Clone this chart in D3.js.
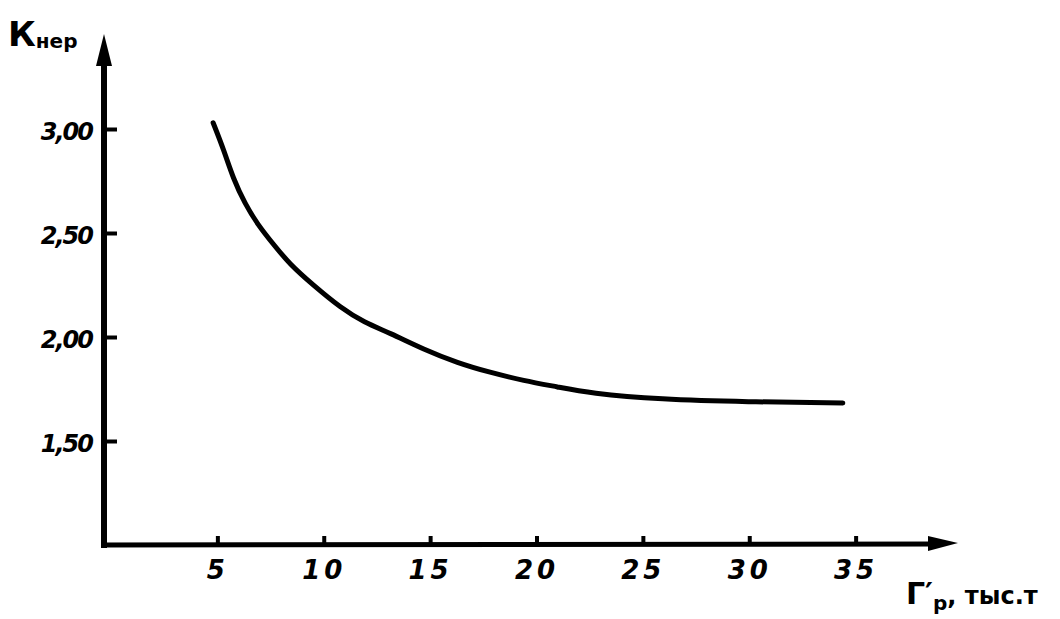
<!DOCTYPE html>
<html>
<head>
<meta charset="utf-8">
<script src="https://cdn.jsdelivr.net/npm/d3@7"></script>
<style>
  body { margin: 0; background: #fff; }
  svg text { font-family: "DejaVu Sans", sans-serif; font-weight: bold; fill: #000; }
</style>
</head>
<body>
<div id="chart"></div>
<script>
// values
const gr_values = [4.8, 5.3, 5.75, 6.3, 6.9, 7.6, 8.4, 9.5, 10.8, 11.9, 13.1, 14.7, 16.3, 17.8, 19.4, 21.0, 22.5, 25.8, 29.9, 34.4];
const k_values = [3.03, 2.90, 2.76, 2.64, 2.54, 2.45, 2.35, 2.25, 2.14, 2.07, 2.02, 1.94, 1.875, 1.83, 1.79, 1.76, 1.73, 1.70, 1.688, 1.683];

const x_ticks = [5, 10, 15, 20, 25, 30, 35];
const y_ticks = [1.5, 2.0, 2.5, 3.0];
const y_tick_labels = ["1,50", "2,00", "2,50", "3,00"];

const width = 1060;
const height = 619;

const svg = d3.select("#chart").append("svg")
    .attr("width", width)
    .attr("height", height);

const x = d3.scaleLinear()
    .domain([0, 40])
    .range([111, 962]);

const y = d3.scaleLinear()
    .domain([1, 3])
    .range([545, 129]);

// axes lines (drawn by hand, with arrows)
const x0 = 104, y0 = 545;

svg.append("line")
    .attr("x1", x0).attr("y1", y0 + 3)
    .attr("x2", x0).attr("y2", 55)
    .attr("stroke", "#000").attr("stroke-width", 6);

svg.append("path")
    .attr("d", `M${x0},34 L${x0 - 8},66 L${x0 + 8},66 Z`)
    .attr("fill", "#000");

svg.append("line")
    .attr("x1", x0 - 3).attr("y1", y0)
    .attr("x2", 940).attr("y2", y0 - 1)
    .attr("stroke", "#000").attr("stroke-width", 5);

svg.append("path")
    .attr("d", `M958,543 L928,536 L928,551 Z`)
    .attr("fill", "#000");

// y axis ticks + labels
const yAxis = d3.axisLeft(y)
    .tickValues(y_ticks)
    .tickSizeInner(-13)
    .tickSizeOuter(0)
    .tickPadding(12)
    .tickFormat((d, i) => y_tick_labels[i]);

const gy = svg.append("g")
    .attr("transform", `translate(${x0}, 0)`)
    .call(yAxis);
gy.select(".domain").remove();
gy.selectAll(".tick line").attr("stroke", "#000").attr("stroke-width", 4);
gy.selectAll(".tick text")
    .attr("font-size", 24)
    .attr("font-style", "italic")
    .attr("letter-spacing", -2)
    .attr("dy", "0.45em");

// x axis ticks + labels
const xAxis = d3.axisBottom(x)
    .tickValues(x_ticks)
    .tickSizeInner(-9)
    .tickSizeOuter(0)
    .tickPadding(16)
    .tickFormat(d => d);

const gx = svg.append("g")
    .attr("transform", `translate(0, ${y0})`)
    .call(xAxis);
gx.select(".domain").remove();
gx.selectAll(".tick line").attr("stroke", "#000").attr("stroke-width", 4);
gx.selectAll(".tick text")
    .attr("font-size", 26)
    .attr("font-style", "italic")
    .attr("letter-spacing", 4);

// curve - basis smooths out the reading noise
const line = d3.line()
    .x((d, i) => x(gr_values[i]))
    .y(d => y(d))
    .curve(d3.curveBasis);

svg.append("path")
    .datum(k_values)
    .attr("d", line)
    .attr("fill", "none")
    .attr("stroke", "#000")
    .attr("stroke-width", 5)
    .attr("stroke-linecap", "round");

// axis titles
const ylab = svg.append("text")
    .attr("x", 8)
    .attr("y", 46)
    .attr("font-size", 34);
ylab.append("tspan").text("К");
ylab.append("tspan").attr("font-size", 20).attr("dy", 2).text("нер");

const xlab = svg.append("text")
    .attr("x", 906)
    .attr("y", 604)
    .attr("font-size", 30);
xlab.append("tspan").text("Г′");
xlab.append("tspan").attr("font-size", 20).attr("dy", 6).text("р");
xlab.append("tspan").attr("font-size", 24).attr("dy", -6).text(", тыс.т");
</script>
</body>
</html>
